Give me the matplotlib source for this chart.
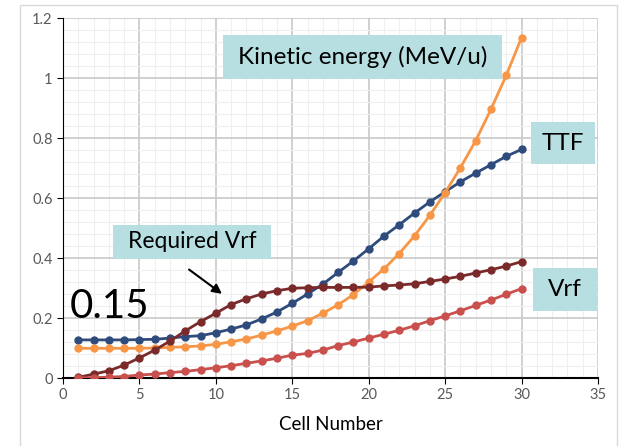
import matplotlib.pyplot as plt
from matplotlib.patches import Rectangle
from matplotlib.ticker import MultipleLocator

plt.rcParams['font.family'] = ['Lato', 'DejaVu Sans']

# Cell numbers 1..30
cells = list(range(1, 31))

ttf = [0.127, 0.127, 0.127, 0.127, 0.128, 0.129, 0.133, 0.138, 0.141, 0.151,
       0.163, 0.177, 0.197, 0.220, 0.249, 0.280, 0.313, 0.352, 0.390, 0.431,
       0.473, 0.511, 0.550, 0.587, 0.621, 0.654, 0.683, 0.711, 0.739, 0.762]

kinetic_energy = [0.099, 0.099, 0.099, 0.099, 0.099, 0.100, 0.102, 0.104, 0.107, 0.112,
                  0.121, 0.130, 0.143, 0.157, 0.173, 0.191, 0.216, 0.244, 0.278, 0.320,
                  0.364, 0.415, 0.474, 0.542, 0.618, 0.701, 0.791, 0.896, 1.009, 1.135]

required_vrf = [0.002, 0.013, 0.024, 0.043, 0.067, 0.093, 0.123, 0.157, 0.188, 0.216,
                0.245, 0.264, 0.280, 0.291, 0.299, 0.301, 0.302, 0.302, 0.302, 0.303,
                0.307, 0.310, 0.314, 0.322, 0.330, 0.339, 0.350, 0.361, 0.373, 0.388]

vrf = [0.000, 0.001, 0.003, 0.005, 0.010, 0.013, 0.018, 0.022, 0.028, 0.034,
       0.041, 0.049, 0.057, 0.066, 0.076, 0.082, 0.093, 0.108, 0.120, 0.133,
       0.146, 0.159, 0.174, 0.191, 0.207, 0.224, 0.242, 0.260, 0.279, 0.298]

fig = plt.figure(figsize=(6.21, 4.46), dpi=100)
ax = fig.add_axes([63 / 621, 68 / 446, 535 / 621, 360 / 446])

# outer chart frame
fig.patches.append(Rectangle((20 / 621, -0.01), 597 / 621, 441 / 446 + 0.01,
                             transform=fig.transFigure, fill=False,
                             edgecolor='#d9d9d9', linewidth=1))

series = [
    (ttf, '#2f4b7c'),
    (kinetic_energy, '#f79646'),
    (required_vrf, '#7b2a2a'),
    (vrf, '#c9504d'),
]
for values, color in series:
    ax.plot(cells, values, color=color, linewidth=2, marker='o',
            markersize=5, zorder=3)

ax.set_xlim(0, 35)
ax.set_ylim(0, 1.2)
ax.xaxis.set_major_locator(MultipleLocator(5))
ax.xaxis.set_minor_locator(MultipleLocator(1))
ax.yaxis.set_major_locator(MultipleLocator(0.2))
ax.yaxis.set_minor_locator(MultipleLocator(0.04))
ax.set_yticks([0, 0.2, 0.4, 0.6, 0.8, 1.0, 1.2])
ax.set_yticklabels(['0', '0.2', '0.4', '0.6', '0.8', '1', '1.2'])

ax.grid(which='major', color='#c8c8c8', linewidth=1.2)
ax.grid(which='minor', color='#efefef', linewidth=0.8)
ax.set_axisbelow(True)

for side in ['top', 'right']:
    ax.spines[side].set_visible(False)
ax.spines['left'].set_color('black')
ax.spines['bottom'].set_color('black')
ax.spines['bottom'].set_linewidth(1.5)
ax.tick_params(which='minor', length=0)
ax.tick_params(which='major', direction='out', length=4, colors='black',
               labelcolor='#595959', labelsize=10.5)

ax.set_xlabel('Cell Number', fontsize=13.5, labelpad=10)


def label_box(x0, x1, y0, y1, text, size):
    # teal callout box with centred text
    ax.add_patch(Rectangle((x0, y0), x1 - x0, y1 - y0, facecolor='#b7dfe2',
                           edgecolor='none', zorder=4))
    ax.text((x0 + x1) / 2, (y0 + y1) / 2, text, fontsize=size,
            ha='center', va='center', zorder=5)


label_box(10.47, 28.72, 0.997, 1.143, 'Kinetic energy (MeV/u)', 17.5)
label_box(30.6, 34.8, 0.713, 0.853, 'TTF', 17.5)
label_box(3.27, 13.6, 0.397, 0.510, 'Required Vrf', 16.5)
label_box(30.75, 34.93, 0.223, 0.367, 'Vrf', 17.5)
ax.text(0.45, 0.237, '0.15', fontsize=29, ha='left', va='center', zorder=5)

ax.annotate('', xy=(10.55, 0.275), xytext=(8.1, 0.367),
            arrowprops=dict(arrowstyle='-|>', color='black', lw=1.5,
                            mutation_scale=14), zorder=5)

fig.savefig('out.png', dpi=100)
